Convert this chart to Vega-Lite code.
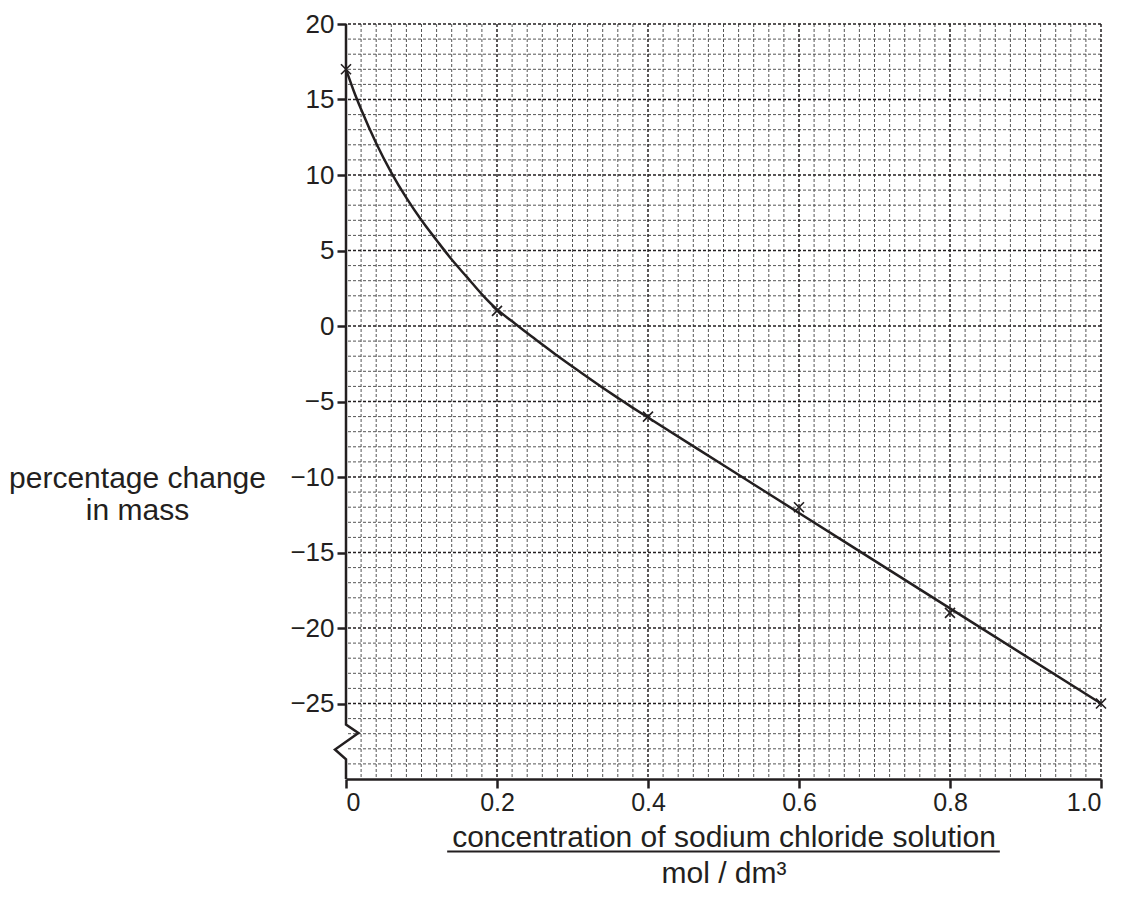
{
  "$schema": "https://vega.github.io/schema/vega-lite/v6.json",
  "width": 755,
  "height": 755,
  "autosize": {"type": "none"},
  "padding": {"left": 346, "top": 24, "right": 24, "bottom": 132},
  "background": "white",
  "config": {
    "view": {"stroke": null},
    "font": "Liberation Sans",
    "axis": {"labelFont": "Liberation Sans", "titleFont": "Liberation Sans", "labelColor": "#231f20", "titleColor": "#231f20", "titleFontWeight": "normal"}
  },
  "datasets": {
    "vminor": [{"x":0.02},{"x":0.04},{"x":0.06},{"x":0.08},{"x":0.1},{"x":0.12},{"x":0.14},{"x":0.16},{"x":0.18},
               {"x":0.22},{"x":0.24},{"x":0.26},{"x":0.28},{"x":0.3},{"x":0.32},{"x":0.34},{"x":0.36},{"x":0.38},
               {"x":0.42},{"x":0.44},{"x":0.46},{"x":0.48},{"x":0.5},{"x":0.52},{"x":0.54},{"x":0.56},{"x":0.58},
               {"x":0.62},{"x":0.64},{"x":0.66},{"x":0.68},{"x":0.7},{"x":0.72},{"x":0.74},{"x":0.76},{"x":0.78},
               {"x":0.82},{"x":0.84},{"x":0.86},{"x":0.88},{"x":0.9},{"x":0.92},{"x":0.94},{"x":0.96},{"x":0.98}],
    "vmajor": [{"x":0.2},{"x":0.4},{"x":0.6},{"x":0.8},{"x":1.0}],
    "hminor": [{"y":-29},{"y":-28},{"y":-27},{"y":-26},{"y":-24},{"y":-23},{"y":-22},{"y":-21},
               {"y":-19},{"y":-18},{"y":-17},{"y":-16},{"y":-14},{"y":-13},{"y":-12},{"y":-11},
               {"y":-9},{"y":-8},{"y":-7},{"y":-6},{"y":-4},{"y":-3},{"y":-2},{"y":-1},
               {"y":1},{"y":2},{"y":3},{"y":4},{"y":6},{"y":7},{"y":8},{"y":9},
               {"y":11},{"y":12},{"y":13},{"y":14},{"y":16},{"y":17},{"y":18},{"y":19}],
    "hmajor": [{"y":-25},{"y":-20},{"y":-15},{"y":-10},{"y":-5},{"y":0},{"y":5},{"y":10},{"y":15},{"y":20}],
    "yaxis": [{"order":1,"x":0,"y":20},{"order":2,"x":0,"y":-26.4},{"order":3,"x":0.0164,"y":-26.95},{"order":4,"x":-0.0146,"y":-28.05},{"order":5,"x":0,"y":-28.7},{"order":6,"x":0,"y":-30}],
    "curve": [{"x":0,"y":17},{"x":0.01,"y":15.6},{"x":0.02,"y":14.35},{"x":0.04,"y":12.1},{"x":0.06,"y":10.16},{"x":0.08,"y":8.48},
              {"x":0.1,"y":7.0},{"x":0.12,"y":5.68},{"x":0.14,"y":4.4},{"x":0.16,"y":3.25},{"x":0.18,"y":2.1},{"x":0.2,"y":1.1},
              {"x":0.22,"y":0.31},{"x":0.24,"y":-0.47},{"x":0.26,"y":-1.22},{"x":0.28,"y":-1.97},{"x":0.3,"y":-2.69},{"x":0.32,"y":-3.4},
              {"x":0.34,"y":-4.09},{"x":0.36,"y":-4.76},{"x":0.38,"y":-5.42},{"x":0.4,"y":-6.06},{"x":0.5,"y":-9.22},{"x":0.6,"y":-12.38},
              {"x":0.8,"y":-18.7},{"x":1.0,"y":-25}],
    "points": [{"conc":0,"pct":17},{"conc":0.2,"pct":1},{"conc":0.4,"pct":-6},{"conc":0.6,"pct":-12},{"conc":0.8,"pct":-19},{"conc":1.0,"pct":-25}],
    "underline": [{"x1":0.134,"x2":0.866,"y":-34.8}]
  },
  "layer": [
    {
      "data": {"name": "points"},
      "mark": {"type": "point", "opacity": 0},
      "encoding": {
        "x": {"field": "conc", "type": "quantitative",
              "scale": {"domain": [0, 1], "nice": false, "zero": false},
              "axis": {"values": [0, 0.2, 0.4, 0.6, 0.8, 1.0], "labelExpr": "datum.value == 0 ? '0' : format(datum.value, '.1f')",
                       "grid": false, "domainColor": "#231f20", "domainWidth": 2.5, "tickColor": "#231f20", "tickWidth": 2.5, "tickSize": 9,
                       "labelFontSize": 25, "labelPadding": 2,
                       "title": ["concentration of sodium chloride solution", "mol / dm³"],
                       "titleFontSize": 30, "titleLineHeight": 36, "titleBaseline": "alphabetic", "titleY": 67, "titleX": 377.5, "titleAlign": "center"}},
        "y": {"field": "pct", "type": "quantitative",
              "scale": {"domain": [-30, 20], "nice": false, "zero": false},
              "axis": {"values": [-25, -20, -15, -10, -5, 0, 5, 10, 15, 20], "grid": false, "domain": false,
                       "tickColor": "#231f20", "tickWidth": 2.5, "tickSize": 9, "labelFontSize": 26, "labelPadding": 3,
                       "title": ["percentage change", "in mass"], "titleFontSize": 30, "titleAngle": 0, "titleAlign": "center",
                       "titleBaseline": "alphabetic", "titleLineHeight": 32, "titleX": -209, "titleY": 463}}
      }
    },
    {
      "data": {"name": "vminor"},
      "mark": {"type": "rule", "color": "#555555", "strokeWidth": 1, "strokeDash": [3, 2]},
      "encoding": {"x": {"field": "x", "type": "quantitative"}}
    },
    {
      "data": {"name": "hminor"},
      "mark": {"type": "rule", "color": "#555555", "strokeWidth": 1, "strokeDash": [3, 2]},
      "encoding": {"y": {"field": "y", "type": "quantitative"}}
    },
    {
      "data": {"name": "vmajor"},
      "mark": {"type": "rule", "color": "#231f20", "strokeWidth": 1.5, "strokeDash": [3, 2]},
      "encoding": {"x": {"field": "x", "type": "quantitative"}}
    },
    {
      "data": {"name": "hmajor"},
      "mark": {"type": "rule", "color": "#231f20", "strokeWidth": 1.5, "strokeDash": [3, 2]},
      "encoding": {"y": {"field": "y", "type": "quantitative"}}
    },
    {
      "data": {"name": "yaxis"},
      "mark": {"type": "line", "color": "#231f20", "strokeWidth": 2.5, "strokeJoin": "miter", "clip": false},
      "encoding": {
        "x": {"field": "x", "type": "quantitative"},
        "y": {"field": "y", "type": "quantitative"},
        "order": {"field": "order", "type": "quantitative"}
      }
    },
    {
      "data": {"name": "curve"},
      "mark": {"type": "line", "color": "#231f20", "strokeWidth": 2.5, "interpolate": "monotone"},
      "encoding": {
        "x": {"field": "x", "type": "quantitative"},
        "y": {"field": "y", "type": "quantitative"}
      }
    },
    {
      "data": {"name": "points"},
      "mark": {"type": "point", "shape": "M-1,-1L1,1M-1,1L1,-1", "size": 100, "filled": false, "color": "#231f20", "strokeWidth": 1.6, "opacity": 1},
      "encoding": {
        "x": {"field": "conc", "type": "quantitative"},
        "y": {"field": "pct", "type": "quantitative"}
      }
    },
    {
      "data": {"name": "underline"},
      "mark": {"type": "rule", "color": "#231f20", "strokeWidth": 2, "clip": false},
      "encoding": {
        "x": {"field": "x1", "type": "quantitative"},
        "x2": {"field": "x2"},
        "y": {"field": "y", "type": "quantitative"}
      }
    }
  ]
}
